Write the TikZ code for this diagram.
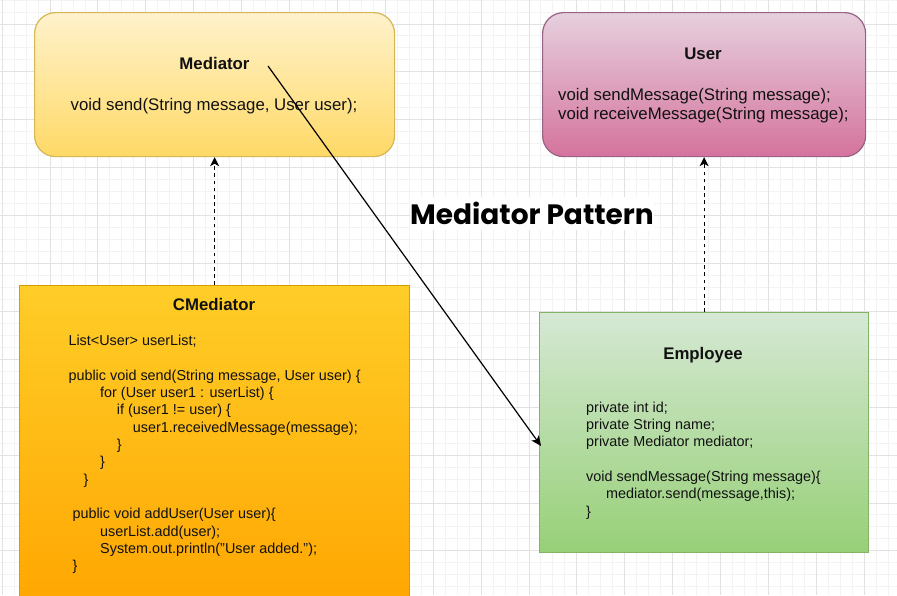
\documentclass[tikz,border=0pt]{standalone}
\usepackage{fontspec}
\setmainfont{Liberation Sans}
\newfontfamily\titlefont{Poppins}
\usetikzlibrary{arrows.meta,calc}
\definecolor{gridminor}{HTML}{F3F3F3}
\definecolor{gridmajor}{HTML}{E2E2E2}
\definecolor{medTop}{HTML}{FFF2CC}
\definecolor{medBot}{HTML}{FFD966}
\definecolor{medLine}{HTML}{D6B656}
\definecolor{usrTop}{HTML}{E6D0DE}
\definecolor{usrBot}{HTML}{D5739D}
\definecolor{usrLine}{HTML}{996185}
\definecolor{cmTop}{HTML}{FFCD28}
\definecolor{cmBot}{HTML}{FFA500}
\definecolor{cmLine}{HTML}{D79B00}
\definecolor{emTop}{HTML}{D5E8D4}
\definecolor{emBot}{HTML}{97D077}
\definecolor{emLine}{HTML}{82B366}
\definecolor{txt}{HTML}{111111}
\tikzset{
  box/.style={draw, line width=1.2pt, inner sep=0pt, anchor=north west},
  titletext/.style={inner sep=0pt, anchor=base, font=\fontsize{16.8}{19.3}\selectfont\bfseries, text=txt},
  bigtext/.style={inner sep=0pt, font=\fontsize{16.8}{19.3}\selectfont, text=txt},
  codetext/.style={inner sep=0pt, anchor=base west, font=\fontsize{14.4}{17.3}\selectfont, text=txt},
  depline/.style={line width=1.2pt, dash pattern=on 3.6pt off 3.6pt, -{Stealth[length=9pt,width=9pt,inset=2.5pt]}},
  assoc/.style={line width=1.2pt, -{Stealth[length=10pt,width=9pt,inset=2.5pt]}},
  minorline/.style={draw=gridminor, line width=1pt},
  majorline/.style={draw=gridmajor, line width=1pt}
}
\begin{document}
\begin{tikzpicture}[x=1pt,y=-1pt]
\clip (0,0) rectangle (897,595);
\fill[white] (0,0) rectangle (897,595);
% grid
\foreach \k in {0,...,75} {
  \pgfmathsetmacro\xx{2.1+11.975*\k}
  \draw[minorline] (\xx,0) -- (\xx,595);
}
\foreach \k in {0,...,50} {
  \pgfmathsetmacro\yy{0.05+11.975*\k}
  \draw[minorline] (0,\yy) -- (897,\yy);
}
\foreach \k in {0,...,18} {
  \pgfmathsetmacro\xx{2.1+47.9*\k}
  \draw[majorline] (\xx,0) -- (\xx,595);
}
\foreach \k in {0,...,12} {
  \pgfmathsetmacro\yy{24+47.9*\k}
  \draw[majorline] (0,\yy) -- (897,\yy);
}
% boxes
\node[box, rounded corners=21pt, draw=medLine, top color=medTop, bottom color=medBot,
      minimum width=360pt, minimum height=144pt] (med) at (34,12) {};
\node[box, rounded corners=21pt, draw=usrLine, top color=usrTop, bottom color=usrBot,
      minimum width=323pt, minimum height=144pt] (user) at (542,12) {};
\node[box, draw=cmLine, top color=cmTop, bottom color=cmBot,
      minimum width=390pt, minimum height=330pt] (cmed) at (19,285) {};
\node[box, draw=emLine, top color=emTop, bottom color=emBot,
      minimum width=329pt, minimum height=240pt] (emp) at (539,312) {};
% Mediator text
\node[titletext] (medtitle) at (214.5,69) {Mediator};
\node[bigtext, anchor=base] (medbody) at (214,110) {void send(String message, User user);};
% User text
\node[titletext] (usertitle) at (703,59) {User};
\node[bigtext, anchor=base west] (userbody) at (558,100) {\begin{tabular}[t]{@{}l@{}}void sendMessage(String message);\\void receiveMessage(String message);\end{tabular}};
% CMediator text
\node[titletext] (cmedtitle) at (214,310) {CMediator};
\node[codetext] (cmedbody) at (68.3,345.7) {\begin{tabular}[t]{@{}l@{}}
List<User> userList;\\
\\
public void send(String message, User user) \{\\
\hspace*{31.7pt}for (User user1 : userList) \{\\
\hspace*{48.4pt}if (user1 != user) \{\\
\hspace*{64.4pt}user1.receivedMessage(message);\\
\hspace*{48.4pt}\}\\
\hspace*{31.7pt}\}\\
\hspace*{15pt}\}\\
\\
\hspace*{4pt}public void addUser(User user)\{\\
\hspace*{31.7pt}userList.add(user);\\
\hspace*{31.7pt}System.out.println("User added.");\\
\hspace*{4pt}\}
\end{tabular}};
% Employee text
\node[titletext] (emptitle) at (703,359) {Employee};
\node[codetext] (empbody) at (586,412.3) {\begin{tabular}[t]{@{}l@{}}
private int id;\\
private String name;\\
private Mediator mediator;\\
\\
void sendMessage(String message)\{\\
\hspace*{20pt}mediator.send(message,this);\\
\}
\end{tabular}};
% title
\node[fill=white, inner sep=0pt, minimum width=240pt, minimum height=33pt,
      font=\titlefont\fontsize{28}{30}\selectfont\bfseries, text=black] (title) at (532,213.5) {Mediator Pattern};
% connectors
\draw[depline] (cmed.north) -- (med.south);
\draw[depline] (emp.north) -- (user.south);
\coordinate (src) at (268,66);
\coordinate (dst) at ($(emp.north west)+(2,134)$);
\draw[assoc] (src) -- (dst);
\end{tikzpicture}
\end{document}
